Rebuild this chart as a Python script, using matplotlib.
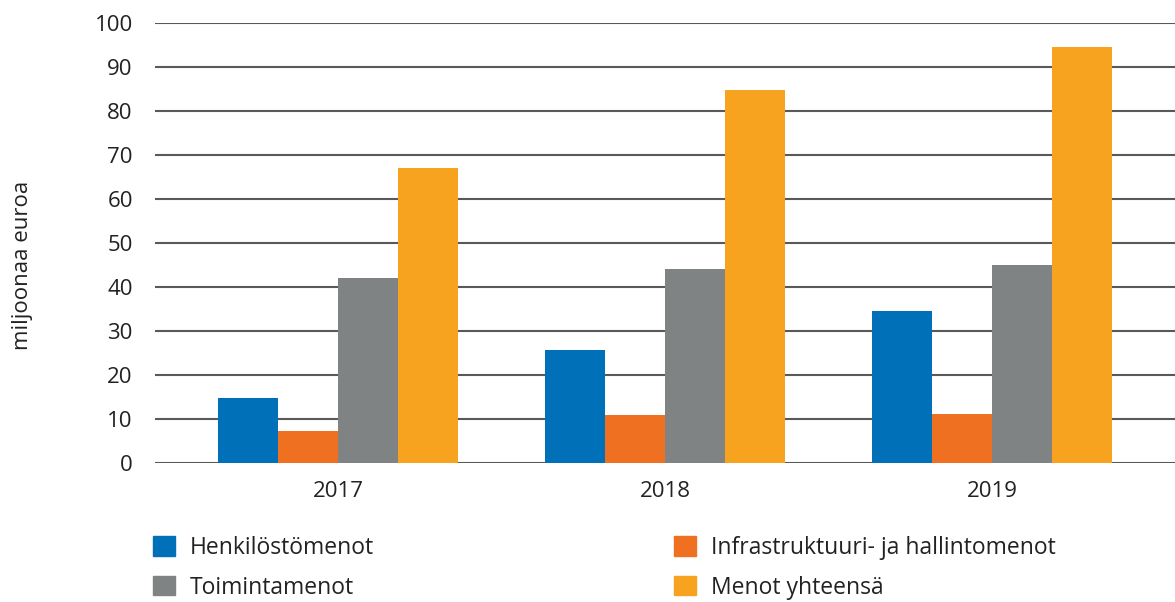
import numpy as np
import matplotlib.pyplot as plt
from matplotlib.patches import Patch

plt.rcParams['font.family'] = ['Open Sans', 'DejaVu Sans']

years = ['2017', '2018', '2019']
henkilosto = [14.8, 25.7, 34.5]
infra = [7.3, 10.9, 11.1]
toiminta = [42.0, 44.1, 45.0]
yhteensa = [67.0, 84.8, 94.5]

series = [
    ('Henkilöstömenot', henkilosto, '#0070B8'),
    ('Infrastruktuuri- ja hallintomenot', infra, '#F07022'),
    ('Toimintamenot', toiminta, '#808383'),
    ('Menot yhteensä', yhteensa, '#F8A31F'),
]

fig = plt.figure(figsize=(11.75, 6.02), dpi=100)
ax = fig.add_axes([155 / 1175, 1 - 463 / 602, 1 - 155 / 1175, (463 - 23) / 602])

x = np.arange(len(years))
w = 0.184
for i, (label, vals, color) in enumerate(series):
    ax.bar(x + (i - 1.5) * w, vals, w, color=color, label=label, zorder=3)

ax.set_ylim(0, 100)
ax.set_yticks(range(0, 101, 10))
ax.set_xlim(-0.56, 2.56)
ax.set_xticks(x)
ax.set_xticklabels(years)
ax.yaxis.grid(True, color='#595959', linewidth=1.5, zorder=0)
for s in ax.spines.values():
    s.set_visible(False)
ax.tick_params(axis='both', length=0, labelsize=16, colors='#222222')
ax.tick_params(axis='y', pad=16)
ax.tick_params(axis='x', pad=13)
ax.set_ylabel('miljoonaa euroa', fontsize=16, color='#222222')
ax.yaxis.set_label_coords(-122 / 1020, 0.45)

handles = [Patch(color=c) for _, _, c in series]
labels = [l for l, _, _ in series]
order = [0, 2, 1, 3]
fig.legend([handles[i] for i in order], [labels[i] for i in order],
           ncol=2, loc='upper left', bbox_to_anchor=(153 / 1175, 1 - 536 / 602),
           frameon=False, fontsize=16.5, handlelength=0.96, handleheight=0.92,
           handletextpad=0.65, labelspacing=0.68, columnspacing=13.1,
           borderpad=0, borderaxespad=0, labelcolor='#222222')

fig.savefig('out.png', dpi=100)
